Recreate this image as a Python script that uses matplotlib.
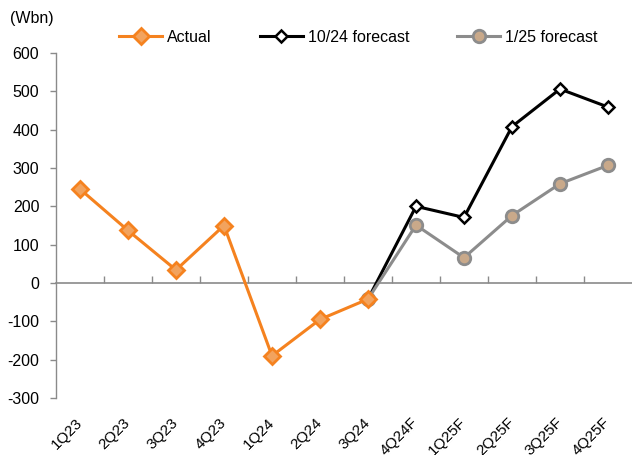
import matplotlib
matplotlib.use("Agg")
import matplotlib.pyplot as plt
import numpy as np

plt.rcParams['font.family'] = ['Liberation Sans', 'DejaVu Sans']

quarters = ["1Q23", "2Q23", "3Q23", "4Q23", "1Q24", "2Q24", "3Q24",
            "4Q24F", "1Q25F", "2Q25F", "3Q25F", "4Q25F"]
actual = [245, 137, 34, 150, -190, -95, -42]
forecast_oct24 = [-42, 200, 171, 408, 506, 459]   # from 3Q24 onward
forecast_jan25 = [-42, 151, 66, 176, 259, 307]    # from 3Q24 onward
y_ticks = [-300, -200, -100, 0, 100, 200, 300, 400, 500, 600]

ORANGE = "#F5821F"
ORANGE_FILL = "#F2A35E"
GRAY = "#8C8C8C"
TAN = "#C9A98A"
AXIS_GRAY = "#8A8A8A"

fig = plt.figure(figsize=(6.32, 4.55), dpi=100)
ax = fig.add_axes([56 / 632, 1 - 398 / 455, 1 - 56 / 632, (398 - 53) / 455])

x = np.arange(len(quarters))
x_act = x[:len(actual)]
x_fc = x[len(actual) - 1:]

ax.plot(x_fc, forecast_oct24, color="black", lw=2.2, marker="D", ms=6.5,
        mfc="white", mec="black", mew=1.8, label="10/24 forecast", zorder=3)
ax.plot(x_fc, forecast_jan25, color=GRAY, lw=2.2, marker="o", ms=9,
        mfc=TAN, mec=GRAY, mew=2, label="1/25 forecast", zorder=4)
ax.plot(x_act, actual, color=ORANGE, lw=2.2, marker="D", ms=8,
        mfc=ORANGE_FILL, mec=ORANGE, mew=2, label="Actual", zorder=5)

ymin, ymax = -300, 600
ax.set_ylim(ymin, ymax)
ax.set_xlim(-0.5, len(quarters) - 0.5)
ax.set_yticks(y_ticks)
ax.set_yticklabels([str(v) for v in y_ticks], fontsize=11.5)
ax.tick_params(axis="y", direction="out", length=4, width=1, color=AXIS_GRAY,
               pad=8, labelcolor="black")

for s in ["top", "right", "bottom"]:
    ax.spines[s].set_visible(False)
ax.spines["left"].set_color(AXIS_GRAY)
ax.spines["left"].set_linewidth(1)

# category labels along the bottom
ax.set_xticks(x)
ax.set_xticklabels(quarters, rotation=45, ha="right", va="center",
                   rotation_mode="anchor", fontsize=11)
ax.tick_params(axis="x", length=0, pad=16)

# zero line with category-boundary ticks
zero_frac = (0 - ymin) / (ymax - ymin)
zax = ax.secondary_xaxis(zero_frac)
zax.set_xticks(np.arange(0.5, len(quarters) - 0.5, 1.0))
zax.set_xticklabels([])
zax.tick_params(axis="x", direction="in", length=5, width=1, color=AXIS_GRAY)
zax.spines["bottom"].set_color(AXIS_GRAY)
zax.spines["bottom"].set_linewidth(1.2)

handles, labels = ax.get_legend_handles_labels()
order = [2, 0, 1]
fig.legend([handles[i] for i in order], [labels[i] for i in order],
           loc="center", bbox_to_anchor=(0.567, 1 - 37 / 455), ncol=3,
           frameon=False, fontsize=11.5, handlelength=2.7, handletextpad=0.3,
           columnspacing=3.0)

fig.text(10 / 632, 1 - 18 / 455, "(Wbn)", fontsize=11.5, ha="left", va="center")

fig.savefig("out.png", dpi=100)
